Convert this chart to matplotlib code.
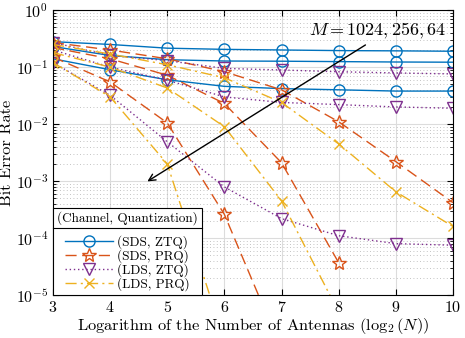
import numpy as np
import matplotlib
matplotlib.use("Agg")
import matplotlib.pyplot as plt
from matplotlib.lines import Line2D

plt.rcParams['font.family'] = ['cmr10', 'DejaVu Serif']
plt.rcParams['mathtext.fontset'] = 'cm'
plt.rcParams['axes.unicode_minus'] = False
plt.rcParams['axes.formatter.use_mathtext'] = True

x_log2N = [3, 4, 5, 6, 7, 8, 9, 10]
nan = np.nan

# (SDS, ZTQ): M = 1024, 256, 64
sds_ztq = [
    [0.28, 0.25, 0.215, 0.205, 0.20, 0.195, 0.193, 0.19],
    [0.23, 0.16, 0.135, 0.128, 0.127, 0.125, 0.123, 0.122],
    [0.14, 0.09, 0.06, 0.046, 0.042, 0.040, 0.038, 0.038],
]
# (SDS, PRQ)
sds_prq = [
    [0.27, 0.20, 0.14, 0.083, 0.040, 0.011, 2.2e-3, 4.2e-4],
    [0.22, 0.14, 0.072, 0.023, 2.1e-3, 3.7e-5, nan, nan],
    [0.15, 0.055, 0.0105, 2.6e-4, 1.1e-6, nan, nan, nan],
]
# (LDS, ZTQ)
lds_ztq = [
    [0.27, 0.16, 0.13, 0.095, 0.089, 0.083, 0.079, 0.076],
    [0.20, 0.10, 0.059, 0.030, 0.024, 0.022, 0.020, 0.019],
    [0.12, 0.032, 4.9e-3, 7.9e-4, 2.2e-4, 1.1e-4, 8.0e-5, 7.5e-5],
]
# (LDS, PRQ)
lds_prq = [
    [0.25, 0.17, 0.11, 0.065, 0.024, 4.5e-3, 6.5e-4, 1.6e-4],
    [0.18, 0.10, 0.043, 9.0e-3, 4.5e-4, 5e-6, nan, nan],
    [0.12, 0.030, 2.0e-3, 1.6e-6, nan, nan, nan, nan],
]

labels = ['(SDS, ZTQ)', '(SDS, PRQ)', '(LDS, ZTQ)', '(LDS, PRQ)']
colors = ['#0072BD', '#D95319', '#7E2F8E', '#EDB120']
styles = ['-', (0, (8, 4)), (0, (1, 2)), (0, (8, 3, 1.5, 3))]
markers = ['o', '*', 'v', 'x']
msizes = [8, 10, 8, 7]
series = [sds_ztq, sds_prq, lds_ztq, lds_prq]

fig = plt.figure(figsize=(4.65, 3.38), dpi=100)
ax = fig.add_axes([0.114, 0.127, 0.860, 0.843])

handles = []
for data, lab, c, ls, mk, ms in zip(series, labels, colors, styles, markers, msizes):
    for k, y in enumerate(data):
        h, = ax.plot(x_log2N, y, color=c, linestyle=ls, marker=mk, markersize=ms,
                     markerfacecolor='none', markeredgecolor=c, linewidth=1.0,
                     markeredgewidth=1.0, label=lab if k == 0 else None)
        if k == 0:
            handles.append(h)

ax.set_yscale('log')
ax.set_xlim(3, 10)
ax.set_ylim(1e-5, 1)
ax.set_xticks(x_log2N)
ax.grid(True, which='major', color='#dcdcdc', linewidth=0.8)
ax.grid(True, which='minor', color='#b0b0b0', linestyle=(0, (1, 3)), linewidth=0.6)
ax.set_axisbelow(True)
ax.tick_params(which='both', direction='in', top=True, right=True, labelsize=11.5)
ax.tick_params(which='major', length=4)
ax.tick_params(which='minor', length=2)
for s in ax.spines.values():
    s.set_linewidth(0.8)
ax.set_xlabel(r'Logarithm of the Number of Antennas ($\log_2(N)$)', fontsize=11.8, labelpad=1)
ax.set_ylabel('Bit Error Rate', fontsize=11.8, labelpad=1)

ax.annotate('', xy=(4.61, 9.3e-4), xytext=(8.51, 0.26),
            arrowprops=dict(arrowstyle='->', color='black', lw=1.0, mutation_scale=12))
ax.text(8.68, 0.43, r'$M=1024,256,64$', fontsize=13, ha='center', va='center')

leg = ax.legend(handles=handles, title='(Channel, Quantization)', loc='lower left',
                borderaxespad=0, fancybox=False, edgecolor='black', framealpha=1,
                fontsize=9.5, title_fontsize=9.5, handlelength=3.7, labelspacing=0.02,
                borderpad=0.3, handletextpad=0.3)
leg.get_frame().set_linewidth(0.8)
leg._legend_box.sep = 7

fig.canvas.draw()
r = fig.canvas.get_renderer()
fb = leg.get_frame().get_window_extent(r)
tb = leg.get_title().get_window_extent(r)
ysep = tb.y0 - 3
inv = fig.transFigure.inverted()
(x0, y0) = inv.transform((fb.x0, ysep))
(x1, _) = inv.transform((fb.x1, ysep))
fig.add_artist(Line2D([x0, x1], [y0, y0], transform=fig.transFigure, color='black', lw=0.8))

fig.savefig('out.png', dpi=100)
